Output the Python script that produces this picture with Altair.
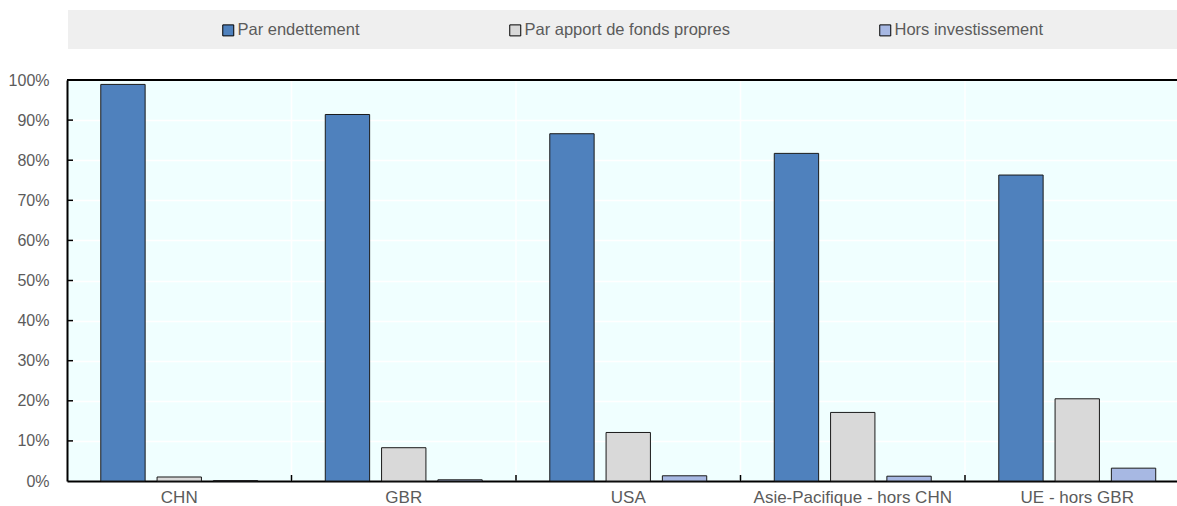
import altair as alt
import pandas as pd

# Regions (x categories) and the three financing shares, in percent
regions = ["CHN", "GBR", "USA", "Asie-Pacifique - hors CHN", "UE - hors GBR"]
series = ["Par endettement", "Par apport de fonds propres", "Hors investissement"]
par_endettement = [98.9, 91.4, 86.6, 81.7, 76.3]
par_fonds_propres = [1.0, 8.3, 12.1, 17.1, 20.5]
hors_investissement = [0.1, 0.3, 1.3, 1.2, 3.2]
colors = ["#4F81BD", "#D9D9D9", "#A7B8E3"]
y_ticks = [10, 20, 30, 40, 50, 60, 70, 80, 90]

rows = []
for name, vals in zip(series, [par_endettement, par_fonds_propres, hors_investissement]):
    for r, v in zip(regions, vals):
        rows.append({"region": r, "series": name, "value": v})
df = pd.DataFrame(rows)

boundaries = pd.DataFrame({"region": regions[1:]})
ticks_df = pd.DataFrame({"value": y_ticks})

TEXT = "#5B5B5B"
W, H = 1110, 401

x_scale = alt.Scale(domain=regions, range=[0, 1122.5], paddingInner=0, paddingOuter=0)
y_scale = alt.Scale(domain=[0, 100], nice=False)

# light grey legend strip above the plot
strip = alt.Chart(pd.DataFrame({"k": [0]})).mark_rect(color="#EFEFEF").encode(
    x=alt.value(1), x2=alt.value(W), y=alt.value(-70), y2=alt.value(-31)
)

# white vertical separators between regions
vgrid = alt.Chart(boundaries).mark_rule(color="white", strokeWidth=1.5).encode(
    x=alt.X("region:N", sort=regions, scale=x_scale, bandPosition=0),
)

bars = alt.Chart(df).mark_bar(stroke="#1A1A1A", strokeWidth=1).encode(
    x=alt.X(
        "region:N",
        sort=regions,
        scale=x_scale,
        axis=alt.Axis(
            title=None, labelAngle=0, labelAlign="center", labelFlush=False,
            labelLimit=400, ticks=False, tickSize=0, domainColor="black",
            domainWidth=2, labelColor=TEXT, labelFontSize=17, labelPadding=16,
            grid=False,
        ),
    ),
    xOffset=alt.XOffset(
        "series:N", sort=series,
        scale=alt.Scale(domain=series, paddingInner=0.212, paddingOuter=0.6),
    ),
    y=alt.Y(
        "value:Q",
        scale=y_scale,
        axis=alt.Axis(
            title=None, values=list(range(0, 101, 10)), labelExpr="datum.value + '%'",
            ticks=False, tickSize=0, domainColor="black", domainWidth=2,
            labelColor=TEXT, labelFontSize=16, labelPadding=18,
            grid=True, gridColor="white", gridWidth=1.5,
        ),
    ),
    color=alt.Color(
        "series:N",
        sort=series,
        scale=alt.Scale(domain=series, range=colors),
        legend=alt.Legend(
            title=None, orient="none", legendX=153, legendY=-58,
            direction="horizontal", symbolType="square", symbolSize=121,
            symbolStrokeColor="black", symbolStrokeWidth=1, labelFontSize=16.5,
            labelColor=TEXT, labelOffset=1, labelLimit=400, columnPadding=147,
        ),
    ),
)

# short inward ticks on the left axis
yticks = alt.Chart(ticks_df).mark_rule(color="black", strokeWidth=1.5).encode(
    y=alt.Y("value:Q", scale=y_scale),
    x=alt.value(0), x2=alt.value(6),
)

# short upward ticks between regions on the baseline
xticks = alt.Chart(boundaries).mark_rule(color="black", strokeWidth=1.5).encode(
    x=alt.X("region:N", sort=regions, scale=x_scale, bandPosition=0),
    y=alt.value(H), y2=alt.value(H - 6),
)

# top frame line
top = alt.Chart(pd.DataFrame({"k": [0]})).mark_rule(color="black", strokeWidth=2).encode(
    y=alt.datum(100),
)

chart = alt.layer(strip, vgrid, bars, yticks, xticks, top).properties(
    width=W,
    height=H,
    autosize=alt.AutoSizeParams(type="none"),
    padding={"left": 67, "top": 80, "right": 0, "bottom": 25},
).configure(
    font="Liberation Sans",
    background="white",
).configure_view(
    fill="#F0FFFF", strokeWidth=0,
)

chart.save("out.html", embed_options={"renderer": "svg", "actions": False})
